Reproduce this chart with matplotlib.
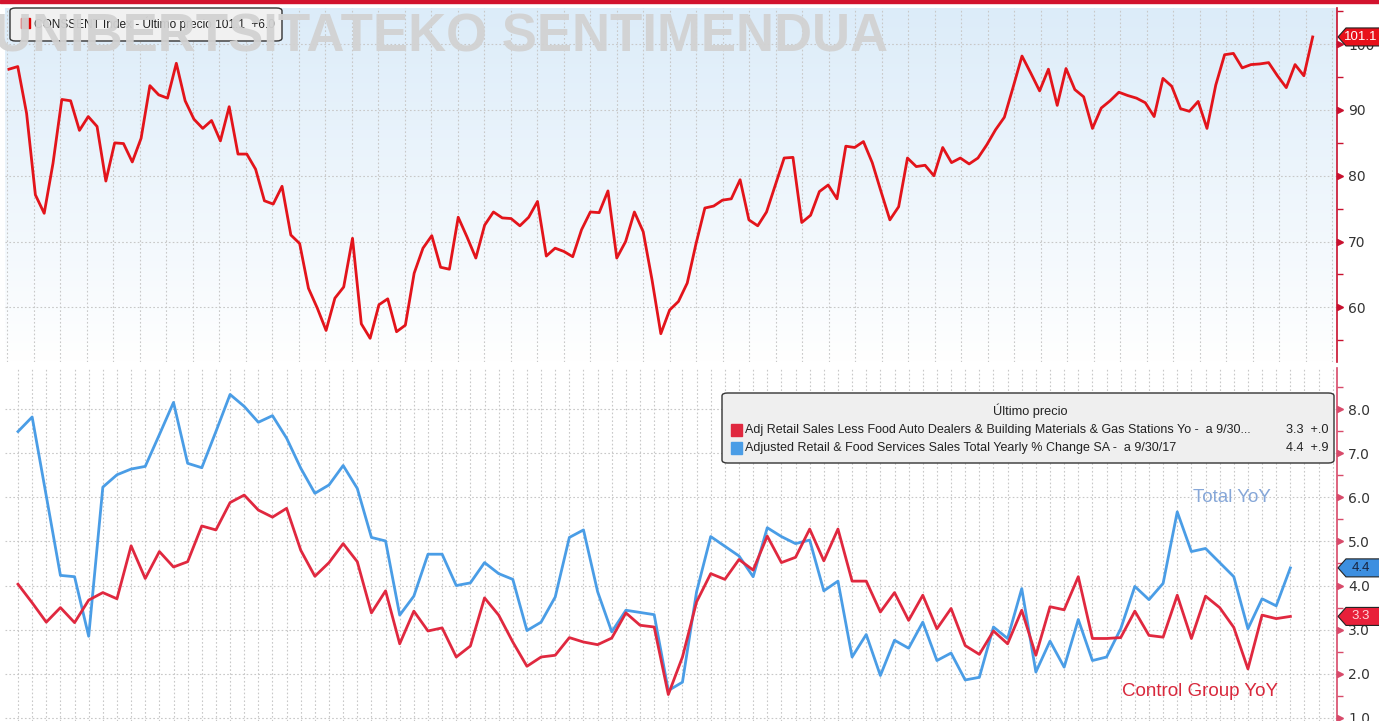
import numpy as np
import matplotlib.pyplot as plt
from matplotlib import transforms as mtransforms
from matplotlib.colors import LinearSegmentedColormap
from matplotlib.patches import Polygon, FancyBboxPatch, Rectangle

# --- data --------------------------------------------------------------
# UMich sentiment, prelim + final prints, Feb 2010 .. Oct 2017
sentiment = [96.2, 96.6, 89.5, 77.1, 74.3, 81.9, 91.6, 91.4, 86.9, 89.0,
             87.5, 79.2, 85.0, 84.9, 82.1, 85.7, 93.7, 92.3, 91.8, 97.1,
             91.4, 88.6, 87.2, 88.4, 85.3, 90.5, 83.3, 83.3, 81.0, 76.2,
             75.7, 78.4, 71.0, 69.7, 62.9, 59.9, 56.5, 61.4, 63.1, 70.5,
             57.5, 55.3, 60.4, 61.3, 56.3, 57.3, 65.2, 69.0, 70.9, 66.1,
             65.8, 73.7, 70.7, 67.5, 72.5, 74.5, 73.6, 73.5, 72.4, 73.7,
             76.1, 67.8, 69.0, 68.5, 67.7, 71.8, 74.5, 74.4, 77.7, 67.5,
             70.0, 74.5, 71.5, 64.2,
             56.0, 59.6, 60.9, 63.7, 69.7, 75.1, 75.4, 76.3, 76.5, 79.4,
             73.3, 72.4, 74.5, 78.6, 82.7, 82.8, 72.9, 74.0, 77.6, 78.6,
             76.5, 84.5, 84.3, 85.2, 82.0, 77.6, 73.3, 75.3, 82.7, 81.4,
             81.6, 80.0, 84.3, 82.0, 82.7, 81.8, 82.7, 84.7, 87.0, 88.9,
             93.5, 98.2, 95.6, 92.9, 96.2, 90.7, 96.3, 93.1, 92.0, 87.2,
             90.3, 91.4, 92.7, 92.2, 91.8, 91.1, 89.0, 94.8, 93.6, 90.2,
             89.8, 91.3, 87.2, 93.8, 98.4, 98.6, 96.4, 96.9, 97.0, 97.2,
             95.2, 93.4, 96.9, 95.2, 101.1]
# first/last sentiment print, in months after Mar 2010
sent_first, sent_last = -0.64, 91.58

# monthly, Mar 2010 .. Sep 2017
total_yoy = [7.49, 7.82, 6.03, 4.23, 4.20, 2.85, 6.23, 6.51, 6.64, 6.70,
             7.42, 8.15, 6.77, 6.67, 7.49, 8.33, 8.06, 7.70, 7.85, 7.34,
             6.66, 6.09, 6.28, 6.72, 6.20, 5.09, 5.01, 3.33, 3.76, 4.71,
             4.71, 4.00, 4.06, 4.52, 4.27, 4.14, 2.98, 3.17, 3.74, 5.09,
             5.26, 3.86, 2.95, 3.44, 3.39, 3.34, 1.62, 1.81, 3.86, 5.11,
             4.89, 4.67, 4.20, 5.31, 5.11, 4.95, 5.03, 3.88, 4.10, 2.38,
             2.89, 1.96, 2.76, 2.58, 3.17, 2.30, 2.47, 1.86, 1.92, 3.06,
             2.80, 3.93, 2.04, 2.74, 2.15, 3.23, 2.30, 2.38, 3.02, 3.98,
             3.68, 4.05, 5.67, 4.77, 4.84, 4.52, 4.20, 3.02, 3.70, 3.54, 4.40]
control_yoy = [4.03, 3.61, 3.17, 3.50, 3.16, 3.67, 3.84, 3.70, 4.90, 4.16,
               4.77, 4.42, 4.54, 5.35, 5.26, 5.88, 6.05, 5.71, 5.55, 5.75,
               4.80, 4.21, 4.52, 4.95, 4.54, 3.38, 3.88, 2.68, 3.42, 2.97,
               3.04, 2.38, 2.63, 3.72, 3.33, 2.72, 2.17, 2.38, 2.42, 2.82,
               2.72, 2.66, 2.81, 3.38, 3.10, 3.06, 1.53, 2.38, 3.63, 4.27,
               4.14, 4.59, 4.35, 5.12, 4.52, 4.64, 5.28, 4.56, 5.28, 4.10,
               4.10, 3.40, 3.84, 3.21, 3.78, 3.02, 3.48, 2.64, 2.44, 2.97,
               2.68, 3.44, 2.42, 3.52, 3.45, 4.20, 2.80, 2.80, 2.82, 3.42,
               2.87, 2.83, 3.78, 2.80, 3.76, 3.50, 3.05, 2.11, 3.33, 3.25, 3.30]

top_ticks = [60, 70, 80, 90, 100]
bot_ticks = [1, 2, 3, 4, 5, 6, 7, 8]

legend_rows = [
    ("Adj Retail Sales Less Food Auto Dealers & Building Materials & Gas Stations Yo -  a 9/30...",
     "3.3  +.0"),
    ("Adjusted Retail & Food Services Sales Total Yearly % Change SA -  a 9/30/17",
     "4.4  +.9"),
]

RED_TOP = "#e3141b"
RED = "#e0283f"
BLUE = "#4a9de6"
SANS = ["Liberation Sans", "DejaVu Sans"]

W, H = 1379, 721
fig = plt.figure(figsize=(W / 100, H / 100), dpi=100)


def fx(x):
    return x / W


def fy(y):
    return 1 - y / H


XLIM = (-0.92, 93.3)
ax1 = fig.add_axes([fx(5), fy(362), fx(1337) - fx(5), (362 - 8) / H])
ax2 = fig.add_axes([fx(5), 0, fx(1337) - fx(5), (721 - 368) / H])
ax1.set_ylim(51.7, 105.5)
ax2.set_ylim(0.93, 8.93)

# top panel background gradient
grad = np.linspace(0, 1, 256).reshape(-1, 1)
cmap = LinearSegmentedColormap.from_list("bg", ["#ffffff", "#dcecf9"])
ax1.imshow(grad, extent=[XLIM[0], XLIM[1], 51.7, 105.5], origin="lower",
           aspect="auto", cmap=cmap, zorder=0)

months = np.arange(len(total_yoy))
sent_x = np.linspace(sent_first, sent_last, len(sentiment))

ax1.plot(sent_x, sentiment, color=RED_TOP, lw=2.0, zorder=3)
ax2.plot(months, total_yoy, color=BLUE, lw=2.0, zorder=3)
ax2.plot(months, control_yoy, color=RED, lw=2.0, zorder=4)

grid_kw = dict(color="#c8c8c8", linestyle=(0, (1.5, 2.0)), linewidth=0.8)
for ax, spine_col, ticks, minors, fmt, vgrid in [
        (ax1, "#c8102e", top_ticks, np.arange(55, 106, 10), "{:.0f}",
         np.arange(-0.75, 93.3, 1.874)),
        (ax2, "#d84a6a", bot_ticks, np.arange(1.5, 9, 1.0), "{:.1f}",
         np.arange(0, 94))]:
    ax.set_xlim(*XLIM)
    ax.set_facecolor("white")
    for s in ("left", "top", "bottom"):
        ax.spines[s].set_visible(False)
    ax.spines["right"].set_color(spine_col)
    ax.spines["right"].set_linewidth(1.2)
    ax.yaxis.tick_right()
    ax.set_yticks(ticks)
    ax.set_yticklabels([fmt.format(t) for t in ticks])
    ax.set_yticks(minors, minor=True)
    ax.tick_params(axis="y", which="major", length=0, pad=8,
                   labelsize=10, labelcolor="#333333")
    ax.tick_params(axis="y", which="minor", length=4, width=1,
                   color=spine_col)
    ax.set_xticks(vgrid)
    ax.tick_params(axis="x", length=0, labelbottom=False)
    ax.grid(True, **grid_kw)
    ax.set_axisbelow(True)
    base = mtransforms.blended_transform_factory(ax.transAxes, ax.transData)
    ax.plot(np.ones(len(ticks)), ticks, ls="none", marker=">", ms=5,
            color=spine_col, clip_on=False,
            transform=mtransforms.offset_copy(base, fig=fig, x=3, y=0,
                                              units="dots"))


def value_tag(ax, yval, label, fc, tc):
    base = mtransforms.blended_transform_factory(ax.transAxes, ax.transData)
    tr = mtransforms.Affine2D() + mtransforms.ScaledTranslation(1, yval, base)
    verts = [(1, 0), (9, 9), (44, 9), (44, -9), (9, -9)]
    poly = Polygon(verts, closed=True, fc=fc, ec="#222222", lw=0.8,
                   transform=tr, clip_on=False, zorder=6)
    ax.add_artist(poly)
    ax.annotate(label, xy=(1, yval), xycoords=base, xytext=(24, 0),
                textcoords="offset pixels", ha="center", va="center",
                color=tc, fontsize=9.5, family=SANS, zorder=7,
                annotation_clip=False)


value_tag(ax1, sentiment[-1], "101.1", "#e8101a", "white")
value_tag(ax2, total_yoy[-1], "4.4", "#3d8fe0", "#1a2540")
value_tag(ax2, control_yoy[-1], "3.3", "#e8203a", "#ffd6dc")

# red band along the very top
fig.patches.append(Rectangle((0, fy(3)), 1, 3 / H, transform=fig.transFigure,
                             color="#d2132e", zorder=5))

# top legend box
fig.patches.append(FancyBboxPatch((fx(10), fy(41)), fx(272), 33 / H,
                                  boxstyle="round,pad=0,rounding_size=0.004",
                                  transform=fig.transFigure, fc="#f1f1f1",
                                  ec="#333333", lw=1, zorder=5))
fig.patches.append(Rectangle((fx(21), fy(28)), fx(9), 10 / H,
                             transform=fig.transFigure, color="#e00000", zorder=6))
fig.text(fx(34), fy(24), "CONSSENT Index - Último precio 101.1  +6.0",
         fontsize=8.6, family=SANS, color="#222222", va="center", zorder=6)

# watermark
fig.text(fx(-6), fy(51), "UNIBERTSITATEKO SENTIMENDUA", fontsize=38,
         fontweight="bold", family=SANS, color="#d2d2d2", alpha=0.95,
         va="baseline", zorder=9)

# bottom legend box
fig.patches.append(FancyBboxPatch((fx(722), fy(463)), fx(612), 70 / H,
                                  boxstyle="round,pad=0,rounding_size=0.004",
                                  transform=fig.transFigure, fc="#efefef",
                                  ec="#333333", lw=1, zorder=5))
fig.text(fx(1030), fy(411), "Último precio", ha="center", va="center",
         fontsize=9.2, family=SANS, color="#222222", zorder=6)
for k, ((name, val), col) in enumerate(zip(legend_rows, [RED, BLUE])):
    yy = 430 + 18 * k
    fig.patches.append(Rectangle((fx(731), fy(yy + 6)), fx(11), 12 / H,
                                 transform=fig.transFigure, color=col, zorder=6))
    fig.text(fx(745), fy(yy), name, va="center", fontsize=9.0, family=SANS,
             color="#222222", zorder=6)
    fig.text(fx(1328), fy(yy), val, va="center", ha="right", fontsize=9.2,
             family=SANS, color="#222222", zorder=6)

fig.text(fx(1193), fy(497), "Total YoY", va="center", fontsize=13.5,
         family=SANS, color="#86a7d8", zorder=6)
fig.text(fx(1122), fy(692), "Control Group YoY", va="center", fontsize=13.5,
         family=SANS, color="#d8283c", zorder=6)

fig.savefig("out.png", dpi=100)
